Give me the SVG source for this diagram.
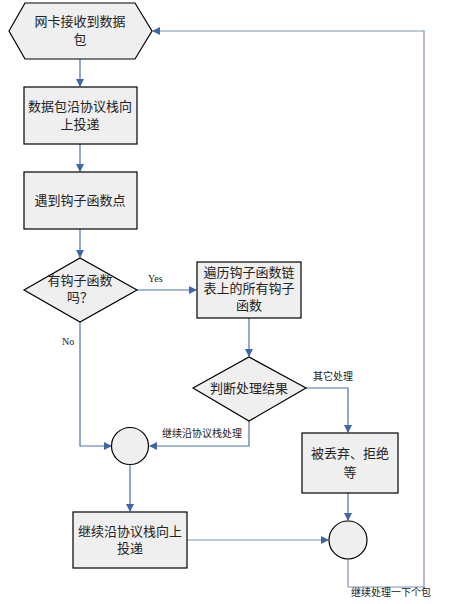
<svg xmlns="http://www.w3.org/2000/svg" width="464" height="604" viewBox="0 0 464 604">
<style>
.n{fill:#efefef;stroke:#000;stroke-width:1.2}
.t{font-family:"Liberation Serif","Noto Sans CJK SC",serif;font-size:13px;fill:#222;text-anchor:middle}
.l{font-family:"Liberation Serif","Noto Sans CJK SC",serif;font-size:10px;fill:#222}
.c{fill:none;stroke:#4a72b0;stroke-width:1.2}
.r{fill:none;stroke:#7f93b0;stroke-width:1.2}
</style>
<defs>
<marker id="a" markerWidth="8" markerHeight="8" refX="7" refY="4" orient="auto" markerUnits="userSpaceOnUse">
<path d="M0,0 L8,4 L0,8 Z" fill="#3f67a8"/>
</marker>
</defs>
<rect width="464" height="604" fill="#fff"/>
<g id="connectors">
<path class="c" d="M80,59 V86" marker-end="url(#a)"/>
<path class="c" d="M80,144 V171" marker-end="url(#a)"/>
<path class="c" d="M80,229 V257" marker-end="url(#a)"/>
<path class="c" d="M137,290 H196" marker-end="url(#a)"/>
<path class="c" d="M249,318 V356" marker-end="url(#a)"/>
<path class="c" d="M306,388 H348 V432" marker-end="url(#a)"/>
<path class="c" d="M249,421 V446 H150" marker-end="url(#a)"/>
<path class="c" d="M80,322 V446 H111" marker-end="url(#a)"/>
<path class="c" d="M130,465 V511" marker-end="url(#a)"/>
<path class="r" d="M187,540 H328" marker-end="url(#a)"/>
<path class="c" d="M348,493 V520" marker-end="url(#a)"/>
<path class="r" d="M348,559 V587 H424 V31 H153" marker-end="url(#a)"/>
<text class="l" x="148" y="282">Yes</text>
<text class="l" x="62" y="345">No</text>
<text class="l" x="313" y="380">其它处理</text>
<text class="l" x="162" y="437">继续沿协议栈处理</text>
<text class="l" x="351" y="596">继续处理一下个包</text>
</g>
<g id="n1">
<polygon class="n" points="9,31 25,3 135,3 152,31 135,59 25,59"/>
<text class="t" x="80" y="26">网卡接收到数据</text>
<text class="t" x="80" y="44">包</text>
</g>
<g id="n2">
<rect class="n" x="24" y="87" width="113" height="57"/>
<text class="t" x="80" y="111">数据包沿协议栈向</text>
<text class="t" x="80" y="129">上投递</text>
</g>
<g id="n3">
<rect class="n" x="24" y="172" width="113" height="57"/>
<text class="t" x="80" y="205">遇到钩子函数点</text>
</g>
<g id="n4">
<polygon class="n" points="24,290 80,258 137,290 80,322"/>
<text class="t" x="80" y="285">有钩子函数</text>
<text class="t" x="80" y="302">吗？</text>
</g>
<g id="n5">
<rect class="n" x="197" y="262" width="104" height="56"/>
<text class="t" x="249" y="277">遍历钩子函数链</text>
<text class="t" x="249" y="293">表上的所有钩子</text>
<text class="t" x="249" y="310">函数</text>
</g>
<g id="n6">
<polygon class="n" points="193,388 249,357 306,388 249,421"/>
<text class="t" x="249" y="393">判断处理结果</text>
</g>
<g id="n7">
<rect class="n" x="302" y="433" width="96" height="60"/>
<text class="t" x="350" y="458">被丢弃、拒绝</text>
<text class="t" x="350" y="477">等</text>
</g>
<g id="n8">
<circle class="n" cx="130" cy="446" r="18.5"/>
</g>
<g id="n9">
<rect class="n" x="73" y="512" width="114" height="56"/>
<text class="t" x="130" y="536">继续沿协议栈向上</text>
<text class="t" x="130" y="553">投递</text>
</g>
<g id="n10">
<circle class="n" cx="348" cy="540" r="19"/>
</g>
</svg>
